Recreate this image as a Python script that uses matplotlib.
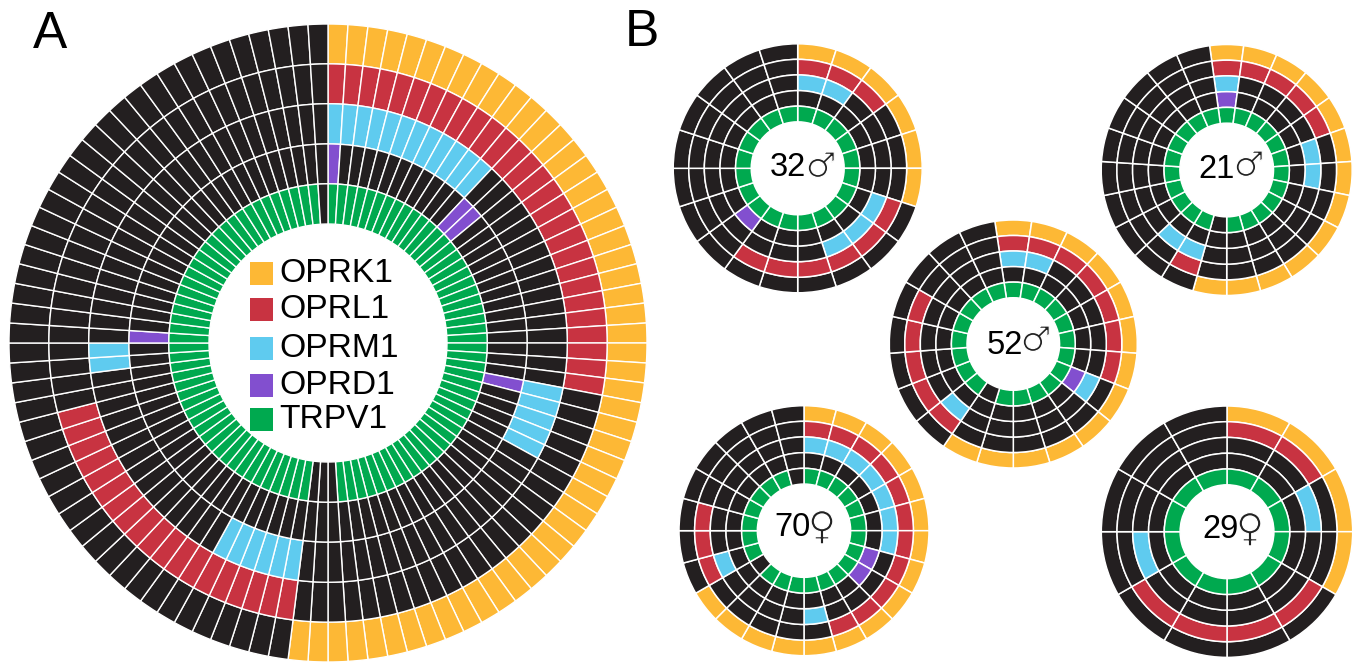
#Opioid / TRPV1 receptor rings, panel A (pooled) and panel B (one per donor)
import numpy as np
from matplotlib import pyplot as plt
from matplotlib.patches import Rectangle
import matplotlib.patheffects as pe

W, H = 1358, 664

genes = ['OPRK1', 'OPRL1', 'OPRM1', 'OPRD1', 'TRPV1']
gene_colors = ['#FDB835', '#C83341', '#5FCBEF', '#824FCF', '#00A94F']
black = '#231F20'

# positive cells as (first, last) runs, counted clockwise, ring order = genes
a_cells = 100
a_oprk1 = [(0, 51)]
a_oprl1 = [(0, 27), (52, 70)]
a_oprm1 = [(0, 11), (28, 32), (52, 57), (73, 74)]
a_oprd1 = [(0, 0), (12, 13), (28, 28), (75, 75)]
a_trpv1 = [(0, 48), (52, 98)]

d32_cells = 20
d32_oprk1 = [(0, 5)]
d32_oprl1 = [(0, 2), (6, 11)]
d32_oprm1 = [(0, 1), (6, 8)]
d32_oprd1 = [(12, 12)]
d32_trpv1 = [(0, 19)]

d21_cells = 23
d21_oprk1 = [(0, 12)]
d21_oprl1 = [(0, 4), (13, 13)]
d21_oprm1 = [(0, 0), (5, 6), (13, 14)]
d21_oprd1 = [(0, 0)]
d21_trpv1 = [(0, 11), (13, 22)]

d52_cells = 21
d52_oprk1 = [(0, 12)]
d52_oprl1 = [(0, 6), (13, 17)]
d52_oprm1 = [(0, 1), (7, 7), (13, 13)]
d52_oprd1 = [(7, 7)]
d52_trpv1 = [(0, 11), (13, 20)]

d70_cells = 24
d70_oprk1 = [(0, 15)]
d70_oprl1 = [(0, 10), (16, 18)]
d70_oprm1 = [(0, 6), (11, 11), (16, 16)]
d70_oprd1 = [(7, 8)]
d70_trpv1 = [(0, 14), (16, 22)]

d29_cells = 12
d29_oprk1 = [(0, 3)]
d29_oprl1 = [(0, 1), (4, 7)]
d29_oprm1 = [(2, 2), (8, 8)]
d29_oprd1 = []
d29_trpv1 = [(0, 11)]

edges = [1.0, 0.875, 0.75, 0.624, 0.499, 0.373]

fig = plt.figure(figsize=(W / 100, H / 100), dpi=100, facecolor='white')
plt.rcParams['font.family'] = ['Liberation Sans', 'DejaVu Sans']


def donut(cx, cy, R, n, rings, start=0.0, lw=1.1):
    ax = fig.add_axes([(cx - R) / W, 1 - (cy + R) / H, 2 * R / W, 2 * R / H],
                      projection='polar')
    ax.set_theta_zero_location('N')
    ax.set_theta_direction(-1)
    ax.set_ylim(0, 1)
    ax.axis('off')
    step = 2 * np.pi / n
    theta = np.deg2rad(start) + step * (np.arange(n) + 0.5)
    for i, runs in enumerate(rings):
        colors = [black] * n
        for first, last in runs:
            for k in range(first, last + 1):
                colors[k] = gene_colors[i]
        ax.bar(theta, edges[i] - edges[i + 1], width=step, bottom=edges[i + 1],
               color=colors, edgecolor='white', linewidth=lw, clip_on=False)


donut(328, 343, 319, a_cells, [a_oprk1, a_oprl1, a_oprm1, a_oprd1, a_trpv1], lw=1.0)
donut(797.7, 168.3, 124.5, d32_cells, [d32_oprk1, d32_oprl1, d32_oprm1, d32_oprd1, d32_trpv1])
donut(1226.7, 170, 125.5, d21_cells, [d21_oprk1, d21_oprl1, d21_oprm1, d21_oprd1, d21_trpv1], start=-7.83)
donut(1013.3, 344, 124, d52_cells, [d52_oprk1, d52_oprl1, d52_oprm1, d52_oprd1, d52_trpv1], start=-8.57)
donut(804, 530.7, 125, d70_cells, [d70_oprk1, d70_oprl1, d70_oprm1, d70_oprd1, d70_trpv1])
donut(1227, 531.7, 125.7, d29_cells, [d29_oprk1, d29_oprl1, d29_oprm1, d29_oprd1, d29_trpv1])

# overlay in picture pixels for the letters, legend and donor labels
top = fig.add_axes([0, 0, 1, 1])
top.set_xlim(0, W)
top.set_ylim(H, 0)
top.axis('off')
top.patch.set_alpha(0)

top.text(50, 34, 'A', fontsize=37, ha='center', va='center')
top.text(642, 33, 'B', fontsize=37, ha='center', va='center')

for name, col, y in zip(genes, gene_colors, [273, 309.5, 348.5, 385, 419.5]):
    top.add_patch(Rectangle((250, y - 11.5), 23, 23, facecolor=col, edgecolor='none'))
    top.text(279, y, name, fontsize=24.2, ha='left', va='center')

donor_labels = [('32', 788, 168, '\u2642', 821, 167),
                ('21', 1216.5, 170, '\u2642', 1249, 166),
                ('52', 1005, 345, '\u2642', 1036, 341),
                ('70', 792, 527, '\u2640', 822, 528),
                ('29', 1220, 530, '\u2640', 1250, 530)]
# white outline eats into the DejaVu glyph, the originals are hairline
thin = [pe.Stroke(linewidth=0.9, foreground='white')]
for age, ax_, ay, sym, sx, sy in donor_labels:
    top.text(ax_, ay, age, fontsize=23.5, ha='center', va='center')
    top.text(sx, sy, sym, fontsize=25 if sym == '\u2642' else 28, ha='center', va='center',
             color='#222222', family='DejaVu Sans', path_effects=thin)

fig.savefig('out.png', dpi=100)
